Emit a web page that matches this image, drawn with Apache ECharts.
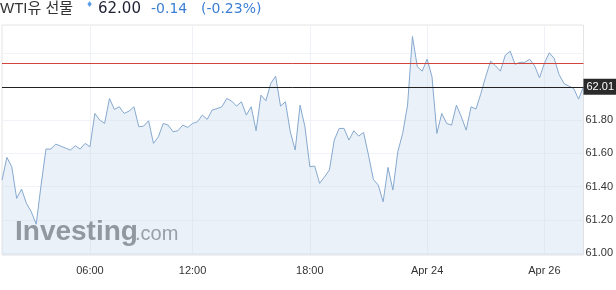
<!DOCTYPE html>
<html><head><meta charset="utf-8">
<script src="https://cdn.jsdelivr.net/npm/echarts@6/dist/echarts.min.js"></script>
<style>html,body{margin:0;padding:0;background:#fff}#c{width:616px;height:290px}</style>
</head><body><div id="c"></div>
<script>
const values = [
61.440,61.576,61.520,61.330,61.386,61.300,61.249,61.175,61.410,61.626,
61.626,61.656,61.644,61.632,61.620,61.646,61.626,61.660,61.640,61.840,
61.800,61.780,61.930,61.864,61.880,61.840,61.854,61.880,61.760,61.764,
61.796,61.660,61.700,61.780,61.770,61.730,61.736,61.770,61.756,61.780,
61.790,61.830,61.804,61.860,61.869,61.880,61.930,61.914,61.884,61.910,
61.830,61.880,61.736,61.950,61.916,62.020,62.064,61.884,61.910,61.730,
61.620,61.890,61.760,61.520,61.524,61.420,61.459,61.500,61.680,61.750,
61.750,61.680,61.736,61.704,61.726,61.590,61.444,61.410,61.309,61.516,
61.380,61.610,61.720,61.890,62.302,62.120,62.094,62.166,62.060,61.720,
61.840,61.780,61.770,61.890,61.820,61.740,61.880,61.866,61.959,62.062,
62.154,62.126,62.094,62.190,62.214,62.135,62.147,62.147,62.165,62.126,
62.054,62.141,62.204,62.171,62.074,62.020,62.004,61.990,61.926,62.000
];
const categories = values.map((v, i) => i);
const tickIndex = [18, 39, 63, 87, 111];
const tickText = ['06:00', '12:00', '18:00', 'Apr 24', 'Apr 26'];
const yLabelValues = [61.00, 61.20, 61.40, 61.60, 61.80];
const yGridValues = [61.00, 61.20, 61.40, 61.60, 61.80, 62.00, 62.20];
const prevClose = 62.14;
const lastLine = 62.00;
const lastTag = '62.01';
const headName = 'WTI유 선물';
const headPrice = '62.00';
const headChange = '-0.14';
const headPct = '(-0.23%)';

const chart = echarts.init(document.getElementById('c'), null, {renderer: 'canvas'});
const F = "'Liberation Sans', Arial, 'Noto Sans CJK KR', sans-serif";
chart.setOption({
  animation: false,
  backgroundColor: '#fff',
  grid: {left: 2, right: 30, top: 25, bottom: 35, show: true, borderColor: '#e4e4e4', borderWidth: 1, backgroundColor: '#fff'},
  xAxis: {
    type: 'category', data: categories, boundaryGap: false,
    axisLine: {show: false}, axisTick: {show: false},
    axisLabel: {
      interval: (i) => tickIndex.indexOf(i) >= 0,
      formatter: (v, i) => tickText[tickIndex.indexOf(i)] || '',
      color: '#333', fontSize: 11, fontFamily: F, margin: 10
    },
    splitLine: {show: true, interval: (i) => tickIndex.indexOf(i) >= 0, lineStyle: {color: '#eef1f5', width: 1}}
  },
  yAxis: {
    type: 'value', position: 'right', min: 60.99, max: 62.371, scale: true,
    axisLine: {show: false},
    axisTick: {show: false, customValues: yGridValues},
    axisLabel: {customValues: yLabelValues, formatter: (v) => v.toFixed(2), color: '#333', fontSize: 11, fontFamily: F, margin: 2},
    splitLine: {show: true, customValues: yGridValues, lineStyle: {color: '#f0f3f7', width: 1}}
  },
  graphic: [
    {type: 'text', x: 15, y: 232, z: 1, style: {text: 'Investing', font: "bold 28px 'Liberation Sans', Arial", fill: '#767676', verticalAlign: 'middle', textVerticalAlign: 'middle'}},
    {type: 'text', x: 135, y: 234.7, z: 1, style: {text: '.com', font: "20px 'Liberation Sans', Arial", fill: '#808080', verticalAlign: 'middle', textVerticalAlign: 'middle'}},
    {type: 'text', x: 0, y: 9, style: {text: headName, font: "15px 'Liberation Sans', 'Noto Sans CJK KR', sans-serif", fill: '#333', verticalAlign: 'middle', textVerticalAlign: 'middle'}},
    {type: 'text', x: 86, y: 5, style: {text: '♦', font: "8px 'DejaVu Sans'", fill: '#5b9ee6', verticalAlign: 'middle', textVerticalAlign: 'middle'}},
    {type: 'text', x: 98, y: 9, style: {text: headPrice, font: "15px 'DejaVu Sans'", fill: '#1f2233', verticalAlign: 'middle', textVerticalAlign: 'middle'}},
    {type: 'text', x: 151, y: 9, style: {text: headChange, font: "14px 'DejaVu Sans'", fill: '#3b7fd4', verticalAlign: 'middle', textVerticalAlign: 'middle'}},
    {type: 'text', x: 201, y: 9, style: {text: headPct, font: "14px 'DejaVu Sans'", fill: '#3b7fd4', verticalAlign: 'middle', textVerticalAlign: 'middle'}}
  ],
  series: [{
    type: 'line', data: values, showSymbol: false, symbol: 'none', z: 3,
    lineStyle: {color: '#86a9cf', width: 1},
    areaStyle: {color: 'rgba(199,215,235,0.5)', origin: 'start'},
    markLine: {
      silent: true, symbol: ['none', 'none'], animation: false,
      lineStyle: {color: '#222', width: 1, type: 'solid'},
      data: [
        {yAxis: lastLine,
         label: {show: true, position: 'end', distance: 0, formatter: lastTag, backgroundColor: '#2a2a2a', color: '#fff', fontSize: 11, fontFamily: F, padding: [3, 3, 2, 3]}}
      ]
    }
  }, {
    type: 'line', data: [], color: '#d0443c', z: 4,
    markLine: {
      silent: true, symbol: ['none', 'none'], animation: false,
      lineStyle: {color: '#d0443c', width: 1, type: 'solid'},
      label: {show: false},
      data: [{yAxis: prevClose}]
    }
  }]
});
</script></body></html>
